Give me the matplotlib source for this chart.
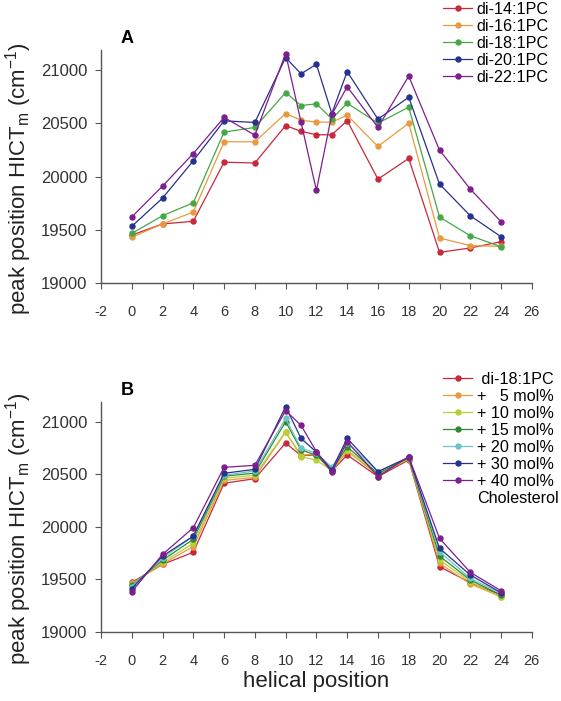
import numpy as np
import matplotlib
matplotlib.use("Agg")
from matplotlib import pyplot as plt

plt.rcParams["font.family"] = ["Liberation Sans", "DejaVu Sans"]
plt.rcParams["mathtext.default"] = "regular"
plt.rcParams["axes.unicode_minus"] = False

# helical positions (x) shared by both panels
positions = [0, 2, 4, 6, 8, 10, 11, 12, 13, 14, 16, 18, 20, 22, 24]

# panel A: chain length series
labels_a = ["di-14:1PC", "di-16:1PC", "di-18:1PC", "di-20:1PC", "di-22:1PC"]
di14 = [19450, 19555, 19580, 20135, 20128, 20480, 20425, 20393, 20393, 20525, 19976, 20171, 19288, 19329, 19388]
di16 = [19430, 19555, 19667, 20327, 20327, 20593, 20530, 20512, 20512, 20577, 20283, 20502, 19423, 19351, 19344]
di18 = [19466, 19632, 19754, 20418, 20462, 20790, 20668, 20684, 20543, 20690, 20502, 20653, 19620, 19444, 19341]
di20 = [19532, 19798, 20149, 20524, 20509, 21119, 20966, 21056, 20593, 20987, 20540, 20746, 19930, 19632, 19435]
di22 = [19620, 19911, 20217, 20556, 20390, 21156, 20512, 19870, 20584, 20844, 20462, 20944, 20249, 19883, 19576]
colors_a = ["#c8283a", "#e89a40", "#45a845", "#27318f", "#7d1f8c"]

# panel B: di-18:1PC with cholesterol
labels_b = [" di-18:1PC", "+   5 mol%", "+ 10 mol%", "+ 15 mol%", "+ 20 mol%", "+ 30 mol%", "+ 40 mol%"]
chol_0 = [19470, 19640, 19756, 20413, 20457, 20797, 20676, 20683, 20530, 20683, 20476, 20635, 19619, 19467, 19349]
chol_5 = [19460, 19645, 19810, 20440, 20470, 20900, 20680, 20690, 20530, 20720, 20490, 20645, 19651, 19454, 19333]
chol_10 = [19450, 19660, 19840, 20460, 20490, 20905, 20667, 20632, 20535, 20730, 20500, 20650, 19683, 19476, 19327]
chol_15 = [19440, 19680, 19880, 20480, 20510, 21000, 20730, 20680, 20540, 20760, 20505, 20655, 19720, 19492, 19349]
chol_20 = [19430, 19700, 19910, 20490, 20530, 21030, 20746, 20700, 20565, 20800, 20524, 20660, 19762, 19508, 19365]
chol_30 = [19410, 19720, 19910, 20508, 20546, 21143, 20841, 20710, 20540, 20841, 20524, 20660, 19794, 19540, 19371]
chol_40 = [19380, 19736, 19990, 20565, 20584, 21105, 20965, 20714, 20517, 20810, 20476, 20667, 19889, 19565, 19390]
colors_b = ["#c8283a", "#e89a40", "#b8cf35", "#2f8a35", "#6cc4c4", "#27318f", "#7d1f8c"]

xticks = list(range(-2, 27, 2))
yticks = [19000, 19500, 20000, 20500, 21000]

fig = plt.figure(figsize=(5.61, 7.01), dpi=100)
ax_a = fig.add_axes([0.180, 0.5963, 0.768, 0.3324])
ax_b = fig.add_axes([0.180, 0.0989, 0.768, 0.3281])


def style_axis(ax, letter):
    for s in ["top", "right"]:
        ax.spines[s].set_visible(False)
    for s in ["left", "bottom"]:
        ax.spines[s].set_color("#555555")
        ax.spines[s].set_linewidth(1.0)
    ax.set_xlim(-2, 26)
    ax.set_ylim(19000, 21190)
    ax.set_xticks(xticks)
    ax.set_yticks(yticks)
    ax.tick_params(axis="x", direction="out", length=4, color="#555555",
                   labelsize=10.5, labelcolor="#333333", pad=12)
    ax.tick_params(axis="y", direction="out", length=4, color="#555555",
                   labelsize=12, labelcolor="#333333", pad=6)
    ax.set_ylabel("peak position HICT$_{m}$ (cm$^{-1}$)", fontsize=16, color="#222222")
    ax.yaxis.set_label_coords(-0.155, 0.45)
    ax.text(0.045, 1.05, letter, transform=ax.transAxes, fontsize=13,
            fontweight="bold", ha="left", va="center")


def add_legend(ax, top_px):
    ax.legend(loc="upper left", bbox_to_anchor=(443 / 561, 1 - top_px / 701),
              bbox_transform=fig.transFigure, frameon=False, fontsize=11.6,
              borderpad=0, borderaxespad=0, handlelength=1.8, handletextpad=0.3,
              labelspacing=0.12)


series_a = [di14, di16, di18, di20, di22]
for vals, col, lab in zip(series_a, colors_a, labels_a):
    ax_a.plot(positions, vals, color=col, marker="o", markersize=3.6, linewidth=0.9, label=lab)
style_axis(ax_a, "A")
add_legend(ax_a, 2)

series_b = [chol_0, chol_5, chol_10, chol_15, chol_20, chol_30, chol_40]
for vals, col, lab in zip(series_b, colors_b, labels_b):
    ax_b.plot(positions, vals, color=col, marker="o", markersize=3.6, linewidth=0.9, label=lab)
ax_b.plot([], [], color="none", label="Cholesterol")
style_axis(ax_b, "B")
ax_b.set_xlabel("helical position", fontsize=16, color="#222222", labelpad=2)
add_legend(ax_b, 372)

fig.savefig("out.png", dpi=100)
